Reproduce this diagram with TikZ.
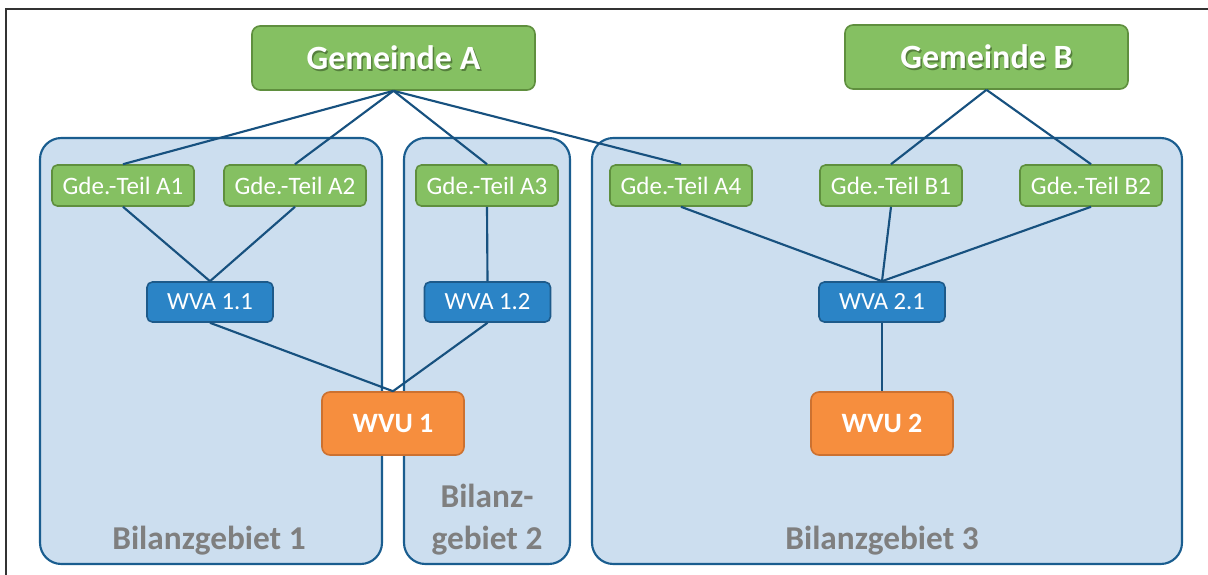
\documentclass[tikz,border=0pt]{standalone}
\usepackage{fontspec}
\setmainfont{Carlito}
\definecolor{gfill}{HTML}{85C062}
\definecolor{gdraw}{HTML}{5F8F3E}
\definecolor{bfill}{HTML}{2B84C6}
\definecolor{bdraw}{HTML}{1D5A8A}
\definecolor{ofill}{HTML}{F68E3E}
\definecolor{odraw}{HTML}{CC7130}
\definecolor{zfill}{HTML}{CCDEEF}
\definecolor{zdraw}{HTML}{1A5D8F}
\definecolor{lcol}{HTML}{17517F}
\definecolor{gtext}{HTML}{7F7F7F}
\definecolor{shade}{HTML}{2E4A1E}
\begin{document}
\begin{tikzpicture}[x=0.75pt,y=-0.75pt,
  zone/.style={draw=zdraw,fill=zfill,line width=1.6pt,rounded corners=16pt,inner sep=0pt},
  gemeinde/.style={draw=gdraw,fill=gfill,line width=1.2pt,rounded corners=6pt,minimum width=212.25pt,minimum height=48pt,inner sep=0pt},
  gemtext/.style={text=white,font=\fontsize{25.5}{28}\selectfont\bfseries},
  gemshadow/.style={text=shade,opacity=0.55,font=\fontsize{25.5}{28}\selectfont\bfseries},
  teil/.style={draw=gdraw,fill=gfill,line width=1.2pt,rounded corners=4pt,minimum width=106.5pt,minimum height=30.75pt,inner sep=0pt,text=white,font=\fontsize{18.8}{20}\selectfont},
  wva/.style={draw=bdraw,fill=bfill,line width=1.2pt,rounded corners=4pt,minimum width=94.5pt,minimum height=30pt,inner sep=0pt,text=white,font=\fontsize{18.5}{20}\selectfont},
  wvu/.style={draw=odraw,fill=ofill,line width=1.2pt,rounded corners=6pt,minimum width=106.5pt,minimum height=47.25pt,inner sep=0pt,text=white,font=\fontsize{21}{24}\selectfont\bfseries},
  zlabel/.style={text=gtext,font=\fontsize{25}{31.5}\selectfont\bfseries,align=center,inner sep=0pt},
  conn/.style={draw=lcol,line width=1.6pt}]
\useasboundingbox (0,0) rectangle (1208,575);
% frame
\coordinate (ftl) at (6,9);
\coordinate (ftr) at (1208,9);
\coordinate (fbl) at (6,575);
\draw[draw=black!80,line width=0.9pt] (ftr) -- (ftl) -- (fbl);
% zones
\node[zone,minimum width=256.5pt,minimum height=319.5pt] (z1) at (211,351) {};
\node[zone,minimum width=124.5pt,minimum height=319.5pt] (z2) at (487,351) {};
\node[zone,minimum width=442.5pt,minimum height=319.5pt] (z3) at (887,351) {};
\node[zlabel] (l1) at (209,541) {Bilanzgebiet 1};
\node[zlabel] (l2) at (487,520) {Bilanz-\\gebiet 2};
\node[zlabel] (l3) at (882,541) {Bilanzgebiet 3};
% top nodes
\node[gemeinde] (ga) at (393.5,58) {};
\node[gemshadow] at (395,60) {Gemeinde A};
\node[gemtext] (gat) at (393.5,58) {Gemeinde A};
\node[gemeinde] (gb) at (986.5,57) {};
\node[gemshadow] at (988,59) {Gemeinde B};
\node[gemtext] (gbt) at (986.5,57) {Gemeinde B};
% Gde-Teil
\node[teil] (a1) at (123,185.5) {Gde.-Teil A1};
\node[teil] (a2) at (295,185.5) {Gde.-Teil A2};
\node[teil] (a3) at (487,185.5) {Gde.-Teil A3};
\node[teil] (a4) at (681,185.5) {Gde.-Teil A4};
\node[teil] (b1) at (891,185.5) {Gde.-Teil B1};
\node[teil] (b2) at (1091,185.5) {Gde.-Teil B2};
% WVA
\node[wva] (w11) at (210,302) {WVA 1.1};
\node[wva] (w12) at (487.5,302) {WVA 1.2};
\node[wva] (w21) at (882,302) {WVA 2.1};
% WVU
\node[wvu] (u1) at (393,423.5) {WVU 1};
\node[wvu] (u2) at (882,423.5) {WVU 2};
% connectors
\draw[conn] (ga.south) -- (a1.north);
\draw[conn] (ga.south) -- (a2.north);
\draw[conn] (ga.south) -- (a3.north);
\draw[conn] (ga.south) -- (a4.north);
\draw[conn] (gb.south) -- (b1.north);
\draw[conn] (gb.south) -- (b2.north);
\draw[conn] (a1.south) -- (w11.north);
\draw[conn] (a2.south) -- (w11.north);
\draw[conn] (a3.south) -- (w12.north);
\draw[conn] (a4.south) -- (w21.north);
\draw[conn] (b1.south) -- (w21.north);
\draw[conn] (b2.south) -- (w21.north);
\draw[conn] (w11.south) -- (u1.north);
\draw[conn] (w12.south) -- (u1.north);
\draw[conn] (w21.south) -- (u2.north);
\end{tikzpicture}
\end{document}
